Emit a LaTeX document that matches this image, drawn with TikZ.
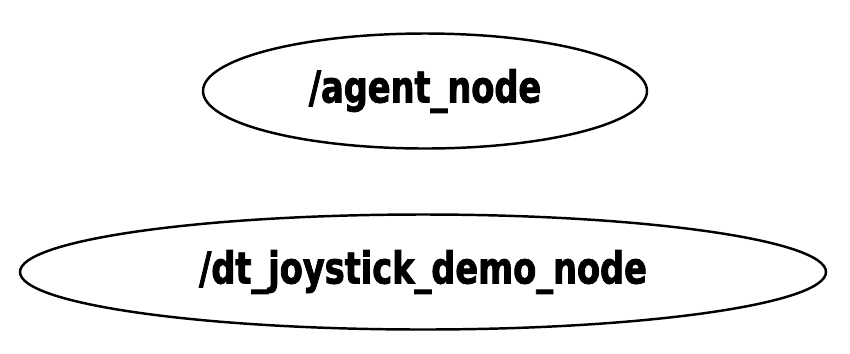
\documentclass[tikz,border=0pt]{standalone}
\usepackage{fontspec}
\newfontfamily\nodefont{DejaVu Sans Condensed}[FakeStretch=0.85,FakeBold=1.8]
\usepackage{tikz}
\usetikzlibrary{shapes.geometric}

\begin{document}
\begin{tikzpicture}[
  every node/.style={ellipse, draw=black, line width=1.4pt, inner sep=0pt,
    font=\nodefont\fontsize{25}{27}\selectfont\bfseries, align=center},
  rosnode/.style={minimum height=2.3cm}
]
\useasboundingbox (0,0) rectangle (17,-7.06);

% node graph
\node[rosnode, minimum width=8.88cm] (agent) at (8.5,-1.82) {/agent\_node};
\node[rosnode, minimum width=16.12cm] (joy) at (8.46,-5.44) {/dt\_joystick\_demo\_node};
\end{tikzpicture}
\end{document}
